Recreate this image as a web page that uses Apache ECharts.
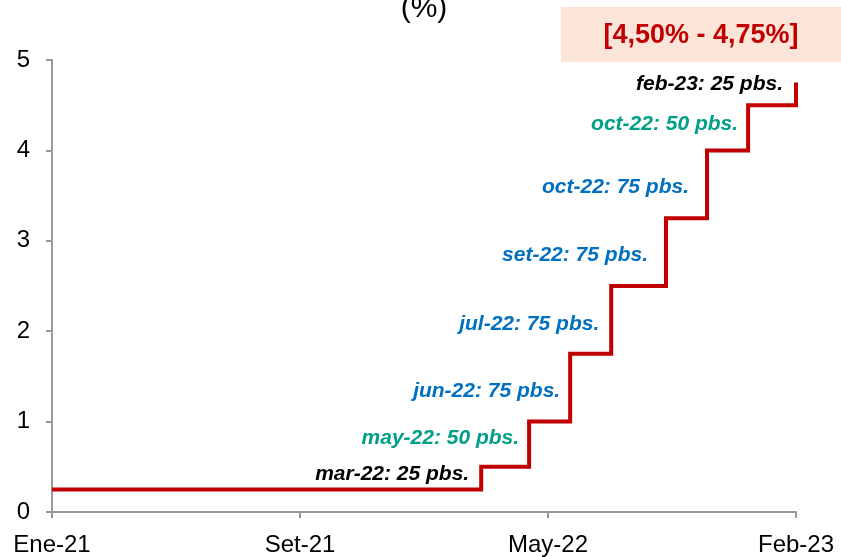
<!DOCTYPE html>
<html>
<head>
<meta charset="utf-8">
<script src="https://cdn.jsdelivr.net/npm/echarts@6/dist/echarts.min.js"></script>
<style>
  html, body { margin: 0; padding: 0; background: #fff; }
  #chart { width: 841px; height: 557px; }
</style>
</head>
<body>
<div id="chart"></div>
<script>
// fechas de cambio de tasa y tasa (limite superior, %)
var startDate = '2021-01-01';
var endDate = '2023-02-01';
var stepDates = ['2021-01-01', '2022-03-16', '2022-05-04', '2022-06-15', '2022-07-27', '2022-09-21', '2022-11-02', '2022-12-14', '2023-02-01'];
var rates = [0.25, 0.50, 1.00, 1.75, 2.50, 3.25, 4.00, 4.50, 4.75];
var stepLabels = ['mar-22: 25 pbs.', 'may-22: 50 pbs.', 'jun-22: 75 pbs.', 'jul-22: 75 pbs.', 'set-22: 75 pbs.', 'oct-22: 75 pbs.', 'oct-22: 50 pbs.', 'feb-23: 25 pbs.'];
var xTickLabels = ['Ene-21', 'Set-21', 'May-22', 'Feb-23'];
var yTicks = [0, 1, 2, 3, 4, 5];
var rangeText = '[4,50% - 4,75%]';

// estilos de las etiquetas
var labelColors = ['#000000', '#00a087', '#0070c0', '#0070c0', '#0070c0', '#0070c0', '#00a087', '#000000'];
var labelOffsets = [[-2, -4], [0, -6], [0, 4], [-2, 4], [-8, 3], [-8, 3], [0, -4], [-3, -10]];

function dayIndex(s) {
    var p = s.split('-');
    var a = Date.UTC(+p[0], +p[1] - 1, +p[2]);
    var q = startDate.split('-');
    var b = Date.UTC(+q[0], +q[1] - 1, +q[2]);
    return Math.round((a - b) / 86400000);
}

var lastDay = dayIndex(endDate);
var xInterval = lastDay / 3;

var lineData = [];
for (var i = 0; i < stepDates.length; i++) {
    lineData.push([dayIndex(stepDates[i]), rates[i]]);
}

var labelData = [];
for (var i = 0; i < stepLabels.length; i++) {
    labelData.push({
        value: [dayIndex(stepDates[i + 1]), (rates[i] + rates[i + 1]) / 2],
        name: stepLabels[i],
        label: { color: labelColors[i], offset: labelOffsets[i] }
    });
}

var font = '"Liberation Sans", Arial, sans-serif';

var myChart = echarts.init(document.getElementById('chart'), null, { renderer: 'canvas' });
var option = {
    animation: false,
    backgroundColor: '#ffffff',
    grid: {
        left: 52,
        right: 45,
        top: 60,
        bottom: 44
    },
    xAxis: {
        type: 'value',
        min: 0,
        max: lastDay,
        interval: xInterval,
        axisLine: { show: true, lineStyle: { color: '#999999', width: 2 } },
        axisTick: { show: true, length: 6, lineStyle: { color: '#999999', width: 2 } },
        splitLine: { show: false },
        axisLabel: {
            margin: 21,
            fontFamily: font,
            fontSize: 24,
            color: '#000',
            formatter: function (v) {
                var k = Math.round(v / xInterval);
                return xTickLabels[k] || '';
            }
        }
    },
    yAxis: {
        type: 'value',
        min: yTicks[0],
        max: yTicks[yTicks.length - 1],
        interval: 1,
        axisLine: { show: true, lineStyle: { color: '#999999', width: 2 } },
        axisTick: { show: true, length: 6, lineStyle: { color: '#999999', width: 2 } },
        splitLine: { show: false },
        axisLabel: { margin: 22, fontFamily: font, fontSize: 24, color: '#000' }
    },
    graphic: [
        {
            type: 'text',
            x: 424,
            y: 9,
            style: {
                text: '(%)',
                fill: '#000',
                font: '30px ' + font,
                align: 'center',
                verticalAlign: 'middle'
            }
        },
        {
            type: 'rect',
            shape: { x: 561, y: 7, width: 280, height: 55 },
            style: { fill: '#fbe4d8' },
            z: 10
        },
        {
            type: 'text',
            x: 701,
            y: 36,
            style: {
                text: rangeText,
                fill: '#c00000',
                font: 'bold 27px ' + font,
                align: 'center',
                verticalAlign: 'middle'
            },
            z: 11
        }
    ],
    series: [
        {
            name: 'tasa',
            type: 'line',
            step: 'end',
            data: lineData,
            symbol: 'none',
            lineStyle: { color: '#c00000', width: 4, join: 'miter', cap: 'butt' },
            z: 3
        },
        {
            name: 'etiquetas',
            type: 'scatter',
            data: labelData,
            symbolSize: 0,
            silent: true,
            itemStyle: { opacity: 1 },
            label: {
                show: true,
                position: 'left',
                distance: 10,
                opacity: 1,
                fontFamily: font,
                fontSize: 21,
                fontWeight: 'bold',
                fontStyle: 'italic',
                formatter: function (p) { return p.name; }
            },
            z: 4
        }
    ]
};
myChart.setOption(option);
</script>
</body>
</html>
